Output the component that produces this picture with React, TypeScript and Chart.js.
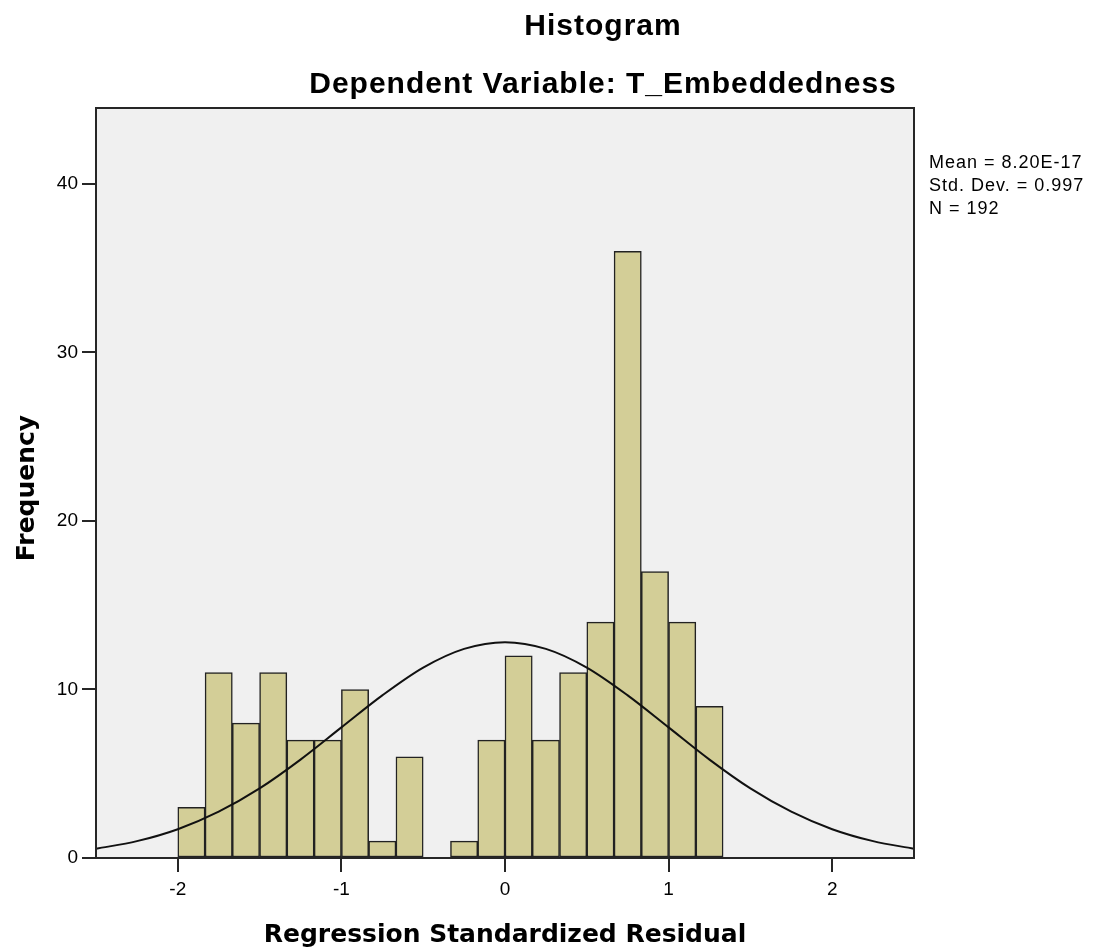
import React, { useEffect, useRef } from 'react';
import { Chart, registerables } from 'chart.js';

Chart.register(...registerables);

// ---- data ----
const binCenters = [
  -1.9167, -1.75, -1.5833, -1.4167, -1.25, -1.0833, -0.9167, -0.75, -0.5833, -0.4167,
  -0.25, -0.0833, 0.0833, 0.25, 0.4167, 0.5833, 0.75, 0.9167, 1.0833, 1.25,
];
const frequencies = [3, 11, 8, 11, 7, 7, 10, 1, 6, 0, 1, 7, 12, 7, 11, 14, 36, 17, 14, 9];

const curveX = [
  -2.5, -2.25, -2.0, -1.75, -1.5, -1.25, -1.0, -0.75, -0.5, -0.25, 0,
  0.25, 0.5, 0.75, 1.0, 1.25, 1.5, 1.75, 2.0, 2.25, 2.5,
];
const curveY = [
  0.55, 1.0, 1.71, 2.75, 4.13, 5.84, 7.75, 9.65, 11.3, 12.41, 12.81,
  12.41, 11.3, 9.65, 7.75, 5.84, 4.13, 2.75, 1.71, 1.0, 0.55,
];

const xTicks = [-2, -1, 0, 1, 2];
const yTicks = [0, 10, 20, 30, 40];

const titleText = 'Histogram';
const subtitleText = 'Dependent Variable: T_Embeddedness';
const statsLines = ['Mean = 8.20E-17', 'Std. Dev. = 0.997', 'N = 192'];
const xTitle = 'Regression Standardized Residual';
const yTitle = 'Frequency';

const W = 1095;
const H = 951;

const decor = {
  id: 'decor',
  beforeDraw(chart: any) {
    const { ctx, chartArea: a } = chart;
    ctx.save();
    ctx.fillStyle = '#F0F0F0';
    ctx.fillRect(a.left, a.top, a.right - a.left, a.bottom - a.top);
    ctx.restore();
  },
  afterDraw(chart: any) {
    const { ctx, chartArea: a } = chart;
    ctx.save();
    // frame
    ctx.strokeStyle = '#262626';
    ctx.lineWidth = 2;
    ctx.strokeRect(a.left, a.top, a.right - a.left, a.bottom - a.top);

    ctx.fillStyle = '#000';
    // titles
    ctx.font = 'bold 30px "Liberation Sans", Arial, sans-serif';
    (ctx as any).letterSpacing = '1px';
    ctx.textAlign = 'center';
    ctx.textBaseline = 'alphabetic';
    ctx.fillText(titleText, 603, 35);
    ctx.fillText(subtitleText, 603, 93);

    // stats legend
    ctx.font = '18px "Liberation Sans", Arial, sans-serif';
    (ctx as any).letterSpacing = '1px';
    ctx.textAlign = 'left';
    statsLines.forEach((s, i) => ctx.fillText(s, 929, 168 + i * 23));

    // axis titles
    (ctx as any).letterSpacing = '0px';
    ctx.font = 'bold 25px "DejaVu Sans", Verdana, sans-serif';
    ctx.textAlign = 'center';
    ctx.fillText(xTitle, 505, 942);

    ctx.translate(34, 488);
    ctx.rotate(-Math.PI / 2);
    ctx.fillText(yTitle, 0, 0);
    ctx.restore();
  },
};

export default function App() {
  const ref = useRef<HTMLCanvasElement | null>(null);

  useEffect(() => {
    if (!ref.current) return;
    const chart = new Chart(ref.current, {
      type: 'bar',
      data: {
        datasets: [
          {
            type: 'line',
            data: curveX.map((x, i) => ({ x, y: curveY[i] })),
            borderColor: '#111',
            borderWidth: 2,
            pointRadius: 0,
            fill: false,
            cubicInterpolationMode: 'monotone',
            order: 0,
          } as any,
          {
            type: 'bar',
            data: binCenters.map((x, i) => ({ x, y: frequencies[i] })),
            backgroundColor: '#D3CE97',
            borderColor: '#222222',
            borderWidth: 1.5,
            borderSkipped: false,
            barPercentage: 1,
            categoryPercentage: 1,
            order: 1,
          } as any,
        ],
      },
      options: {
        animation: false,
        responsive: false,
        maintainAspectRatio: false,
        events: [],
        layout: { padding: { top: 108, right: W - 914, left: 0, bottom: 0 } },
        plugins: {
          legend: { display: false },
          tooltip: { enabled: false },
          title: { display: false },
        },
        scales: {
          x: {
            type: 'linear',
            min: -2.5,
            max: 2.5,
            offset: false,
            afterBuildTicks: (s: any) => {
              s.ticks = xTicks.map((v) => ({ value: v }));
            },
            afterFit: (s: any) => {
              s.height = H - 858;
            },
            grid: {
              display: true,
              offset: false,
              drawOnChartArea: false,
              drawTicks: true,
              tickLength: 14,
              color: '#262626',
              lineWidth: 2,
            },
            border: { display: false },
            ticks: {
              color: '#000',
              font: { family: '"Liberation Sans", Arial, sans-serif', size: 19 },
              padding: 6,
              maxRotation: 0,
              autoSkip: false,
              callback: (v: any) => String(v),
            },
          },
          y: {
            type: 'linear',
            min: 0,
            max: 44.51,
            afterBuildTicks: (s: any) => {
              s.ticks = yTicks.map((v) => ({ value: v }));
            },
            afterFit: (s: any) => {
              s.width = 96;
            },
            grid: {
              display: true,
              offset: false,
              drawOnChartArea: false,
              drawTicks: true,
              tickLength: 14,
              color: '#262626',
              lineWidth: 2,
            },
            border: { display: false },
            ticks: {
              color: '#000',
              font: { family: '"Liberation Sans", Arial, sans-serif', size: 19 },
              padding: 4,
              autoSkip: false,
              callback: (v: any) => String(v),
            },
          },
        },
      },
      plugins: [decor],
    } as any);
    return () => chart.destroy();
  }, []);

  return (
    <div style={{ position: 'fixed', left: 0, top: 0, width: W, height: H, background: '#fff' }}>
      <canvas ref={ref} width={W} height={H} style={{ width: W, height: H, display: 'block' }} />
    </div>
  );
}
